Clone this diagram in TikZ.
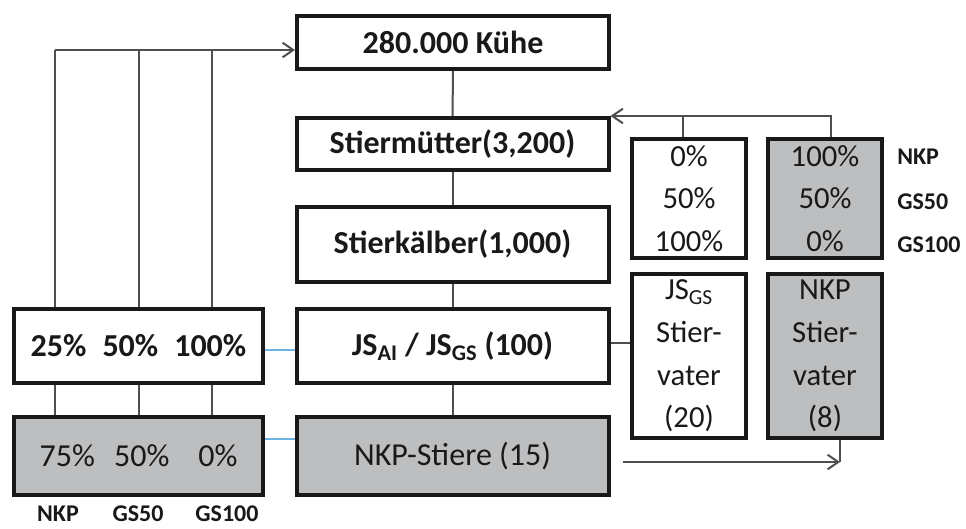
\documentclass[tikz,border=0pt]{standalone}
\usepackage{fontspec}
\setmainfont{Carlito}
\usetikzlibrary{positioning, arrows.meta, calc}
\definecolor{boxgray}{HTML}{BDBEC0}
\definecolor{linegray}{HTML}{4F4F4F}
\definecolor{linkblue}{HTML}{6DB3E2}

\begin{document}
\begin{tikzpicture}[
  x=0.75pt, y=-0.75pt,
  >={Straight Barb[length=8pt,width=11pt]},
  every node/.style={text=black!90},
  box/.style  = {draw=black!90, line width=3pt, align=center, inner sep=0pt, fill=white},
  gbox/.style = {box, fill=boxgray},
  wide/.style = {minimum width=234pt},
  big/.style  = {font=\fontsize{24}{28}\selectfont\bfseries},
  reg/.style  = {font=\fontsize{24}{28}\selectfont},
  tall/.style = {font=\fontsize{23}{32}\selectfont, minimum width=85.5pt},
  tag/.style  = {font=\fontsize{18}{20}\selectfont\bfseries, inner sep=0pt},
  conn/.style = {draw=linegray, line width=1.5pt},
  arr/.style  = {conn, ->},
  link/.style = {draw=linkblue, line width=1.5pt},
]
  \useasboundingbox (0,0) rectangle (966,528);

  % Middle column: herd down to the young bulls.
  \node[box, big, wide, minimum height=39.75pt]  (kuehe)   at (453,42.5)    {280.000 Kühe};
  \node[box, big, wide, minimum height=39pt]     (smutter) at (452.5,144)   {Stiermütter(3,200)};
  \node[box, big, wide, minimum height=56.25pt]  (skalber) at (452.5,244.5) {Stierkälber(1,000)};
  \node[box, big, wide, minimum height=55.5pt]   (js)      at (452.5,346)   {JS\textsubscript{AI} / JS\textsubscript{GS} (100)};
  \node[gbox, reg, wide, minimum height=58.5pt]  (nkps)    at (452.5,456)   {NKP-Stiere (15)};
  \foreach \a/\b in {kuehe/smutter, smutter/skalber, skalber/js, js/nkps}
     \draw[conn] (\a) -- (\b);

  % Left shares.
  \node[box, big, minimum width=186.75pt, minimum height=55.5pt] (pcttop) at (138.5,346)
     {25\%\hspace{0.5em}50\%\hspace{0.5em}100\%};
  \node[gbox, reg, minimum width=186.75pt, minimum height=58.5pt] (pctbot) at (138.5,456)
     {75\%\hspace{0.6em}50\%\hspace{0.9em}0\%};
  \draw[link] (pcttop.east |- 0,350) -- (js.west |- 0,350);
  \draw[link] (pctbot.east |- 0,439) -- (nkps.west |- 0,439);

  \coordinate (top) at (0,50);
  \foreach \x in {55,139,212} {
     \draw[conn] (pcttop.north -| \x,0) -- (top -| \x,0);
     \draw[conn] (pcttop.south -| \x,0) -- (pctbot.north -| \x,0);
  }
  \draw[arr] (top -| 55,0) -- (kuehe.west |- top);

  % Right: sire mixes and sires.
  \node[box, tall, minimum height=89.25pt]  (mixgs)  at (689,198.5) {0\%\\50\%\\100\%};
  \node[gbox, tall, minimum height=89.25pt] (mixnkp) at (825,198.5) {100\%\\50\%\\0\%};
  \node[box, tall, minimum height=123pt]    (svgs)   at (689,356)   {JS\textsubscript{GS}\\Stier-\\vater\\(20)};
  \node[gbox, tall, minimum height=123pt]   (svnkp)  at (825,356)   {NKP\\Stier-\\vater\\(8)};

  \draw[arr] (mixnkp.north) ++(4.5pt,0) |- (smutter.north east);
  \draw[conn] (mixgs.north) ++(-4.5pt,0) -- ++(0,16.5pt);
  \draw[conn] (js.east |- 0,343) -- (svgs.west |- 0,343);

  \coordinate (foot) at (840,462);
  \draw[arr] (nkps.east |- foot) ++(9pt,0) -- (foot);
  \draw[conn] (svnkp.south -| foot) -- (foot);

  % Breed labels.
  \foreach \t/\y in {NKP/157, GS50/202, GS100/245}
     \node[tag, anchor=west] (r\t) at (897,\y) {\t};
  \foreach \t/\x in {NKP/58, GS50/138, GS100/227}
     \node[tag] (b\t) at (\x,514) {\t};
\end{tikzpicture}
\end{document}
